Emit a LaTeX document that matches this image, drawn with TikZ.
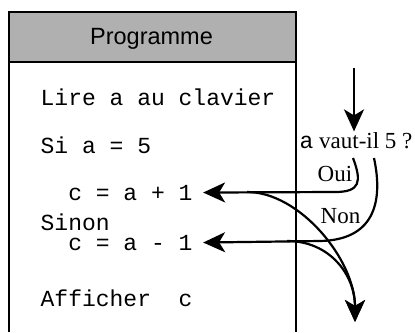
\documentclass[tikz,border=0pt]{standalone}
\usepackage{fontspec}
\setmainfont{Liberation Serif}
\setsansfont{Liberation Sans}
\setmonofont{Liberation Mono}
\usetikzlibrary{arrows.meta}
\definecolor{entete}{RGB}{176,176,176}
\begin{document}
\begin{tikzpicture}[x=0.5pt,y=-0.5pt,line width=0.65pt,
  code/.style={anchor=base west,inner sep=0pt,font=\fontsize{11.5}{14}\ttfamily},
  lbl/.style={anchor=base west,inner sep=0pt,font=\fontsize{11.5}{14}\selectfont},
  fl/.style={line width=1.1pt,-{Stealth[length=11pt,width=10pt,inset=3pt]}}]
  \useasboundingbox (0,0) rectangle (415,332);
  \filldraw[fill=entete] (9,12) rectangle (296,62);
  \draw (9,62) -- (9,332);
  \draw (296,62) -- (296,332);
  \node[inner sep=0pt,anchor=base,font=\fontsize{11.75}{14}\sffamily] (titre) at (151.5,44) {Programme};

  \node[code] (l1) at (40,105) {Lire a au clavier};
  \node[code] (l2) at (40,153) {Si a = 5};
  \node[code] (l3) at (40,200) {~~c = a + 1};
  \node[code] (l4) at (40,230) {Sinon};
  \node[code] (l5) at (40,250) {~~c = a - 1};
  \node[code] (l6) at (40,306) {Afficher~~c};

  \node[lbl] (q) at (299,148) {\texttt{a} vaut-il 5 ?};
  \node[lbl] (oui) at (317,181) {Oui};
  \node[lbl] (non) at (320,223) {Non};

  \coordinate (haut) at (354,68);
  \coordinate (q1) at (353,158);
  \coordinate (q2) at (374,158);
  \coordinate (b1) at (247,192);
  \coordinate (b2) at (287,241);
  \coordinate (bas) at (355,322);

  \draw[fl] (haut) -- (haut |- q.north);
  \draw[fl] (q1) .. controls (362,182) and (360,192) .. (335,192) -- ([xshift=5pt]l3.east);
  \draw[fl] (q2) .. controls (384,205) and (372,240) .. (320,241) -- ([xshift=5pt]l5.east);
  \draw[fl] (b1) .. controls (300,192) and (355,260) .. (bas);
  \draw[fl] (b2) .. controls (330,241) and (355,275) .. (bas);
\end{tikzpicture}
\end{document}
